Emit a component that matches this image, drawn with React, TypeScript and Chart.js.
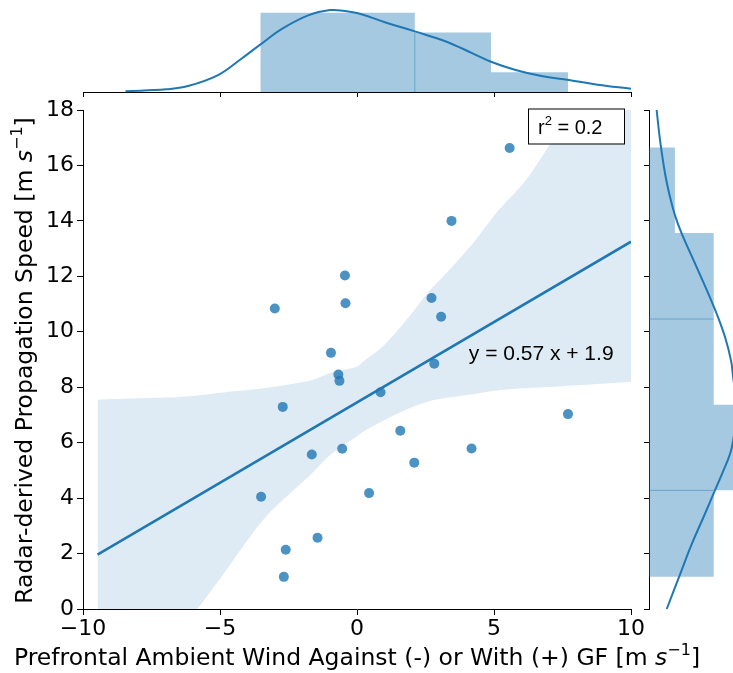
import React, { useEffect, useRef } from 'react';
import { Chart, registerables } from 'chart.js';

Chart.register(...registerables);

// ---------------- data ----------------
const obsX = [5.57, 3.45, -0.44, -0.42, -3.0, 2.72, 3.07, -0.95, 2.82, -0.68, -0.64, 0.86, -2.71, 7.7, 1.58, -0.54, 4.18, -1.65, 2.09, -3.5, 0.44, -1.44, -2.6, -2.67];
const obsY = [16.63, 14.0, 12.03, 11.03, 10.84, 11.22, 10.54, 9.24, 8.85, 8.46, 8.23, 7.82, 7.29, 7.03, 6.43, 5.78, 5.79, 5.57, 5.28, 4.05, 4.18, 2.57, 2.14, 1.16];

const fitX = [-9.47, 10];
const fitY = [1.96, 13.25];

const bandX = [-9.47, -8, -6.6, -5.83, -5, -3.35, -1.65, -0.99, 0, 0.23, 0.97, 1.81, 2.66, 3.27, 4.24, 5.1, 6.19, 7.37, 8.2, 10];
const bandUpper = [7.55, 7.6, 7.64, 7.7, 7.8, 7.97, 8.25, 8.51, 8.74, 8.93, 9.5, 10.43, 11.5, 12.12, 13.2, 14.3, 15.5, 17.25, 18.3, 20.5];
const bandLower = [-3.6, -2.2, -0.9, 0, 1.09, 3.3, 4.89, 5.55, 6.23, 6.4, 6.8, 7.2, 7.5, 7.62, 7.75, 7.88, 7.97, 8.03, 8.08, 8.2];

// top marginal histogram (x) and KDE
const topEdges = [-3.52, -0.72, 2.11, 4.89, 7.7];
const topCounts = [8, 8, 6, 2];
const topEdgeLineX = [2.11];
const topEdgeLineH = [6];
const topKdeX = [-8.45, -6.96, -6.17, -5.07, -4.28, -3.52, -2.71, -1.76, -0.98, -0.5, 0.13, 1.07, 2.11, 3.27, 4.22, 4.89, 5.79, 6.73, 7.73, 8.78, 10];
const topKdeY = [0.07, 0.27, 0.6, 1.71, 3.23, 4.81, 6.42, 7.76, 8.27, 8.2, 7.87, 6.99, 6.12, 5.08, 3.9, 3.06, 2.22, 1.61, 1.21, 0.74, 0.34];

// right marginal histogram (y) and KDE
const rightEdges = [1.16, 4.28, 7.37, 10.46, 13.56, 16.65];
const rightCounts = [5, 7, 5, 5, 2];
const rightEdgeLineY = [10.46, 4.28];
const rightEdgeLineW = [5, 5];
const rightKdeY = [18, 16.92, 15.71, 14.87, 14.2, 13.54, 12.46, 11.37, 10.65, 9.8, 8.96, 8.36, 7.2, 6.07, 5.59, 4.99, 4.14, 3.3, 2.34, 1.25, 0];
const rightKdeX = [0.59, 0.85, 1.24, 1.62, 2.01, 2.53, 3.56, 4.59, 5.23, 5.88, 6.34, 6.5, 6.8, 6.5, 6.26, 5.75, 4.97, 4.2, 3.3, 2.4, 1.37];

const xTicks = [-10, -5, 0, 5, 10];
const yTicks = [0, 2, 4, 6, 8, 10, 12, 14, 16, 18];

const xTitle = 'Prefrontal Ambient Wind Against (-) or With (+) GF [m ';
const yTitle = 'Radar-derived Propagation Speed [m ';
const unitS = 's';
const unitExp = '\u22121';
const eqText = 'y = 0.57 x + 1.9';
const eqAt = { x: 4.08, y: 9 };
const r2Label = 'r';
const r2Sup = '2';
const r2Value = ' = 0.2';

// ---------------- layout / style ----------------
const W = 733;
const H = 673;
const AREA_L = 83;
const AREA_R = 631;
const AREA_T = 110;
const AREA_B = 609;
const TOP_BASE = 92;
const RIGHT_L = 649;
const BLUE = '#1f77b4';
const DV = '"DejaVu Sans"';
const LS = '"Liberation Sans", Arial';
const TITLE_SIZE = 23.5;

type Part = { t: string; it?: boolean; sup?: boolean };

function drawRich(ctx: CanvasRenderingContext2D, parts: Part[], x: number, y: number, size: number, family: string, align: 'center' | 'left', rot = 0, supScale = 0.7) {
  ctx.save();
  ctx.translate(x, y);
  ctx.rotate(rot);
  const fontFor = (p: Part) => `${p.it ? 'italic ' : ''}${p.sup ? Math.round(size * supScale) : size}px ${family}`;
  let total = 0;
  const ws = parts.map((p) => {
    ctx.font = fontFor(p);
    const w = ctx.measureText(p.t).width;
    total += w;
    return w;
  });
  let cx = align === 'center' ? -total / 2 : 0;
  ctx.textBaseline = 'alphabetic';
  ctx.textAlign = 'left';
  ctx.fillStyle = '#000';
  parts.forEach((p, i) => {
    ctx.font = fontFor(p);
    ctx.fillText(p.t, cx, p.sup ? -size * 0.42 : 0);
    cx += ws[i];
  });
  ctx.restore();
}

const annotPlugin = {
  id: 'annot',
  afterDraw(chart: any) {
    const ctx: CanvasRenderingContext2D = chart.ctx;
    const a = chart.chartArea;
    const xs = chart.scales.x;
    const ys = chart.scales.y;
    ctx.save();
    // r^2 box (upper right)
    const bx = a.right - 103;
    const by = a.top - 1.5;
    ctx.fillStyle = '#fff';
    ctx.fillRect(bx, by, 96, 35);
    ctx.strokeStyle = '#000';
    ctx.lineWidth = 1;
    ctx.strokeRect(bx + 0.5, by + 0.5, 96, 35);
    drawRich(ctx, [{ t: r2Label }, { t: r2Sup, sup: true }, { t: r2Value }], bx + 10, by + 25, 20, LS, 'left', 0, 0.65);
    // equation
    ctx.fillStyle = '#000';
    ctx.font = `21px ${LS}`;
    ctx.textAlign = 'left';
    ctx.textBaseline = 'alphabetic';
    ctx.fillText(eqText, xs.getPixelForValue(eqAt.x), ys.getPixelForValue(eqAt.y));
    // axis titles
    const cxm = (a.left + a.right) / 2;
    const cym = (a.top + a.bottom) / 2;
    drawRich(ctx, [{ t: xTitle }, { t: unitS, it: true }, { t: unitExp, sup: true }, { t: ']' }], cxm, H - 8, TITLE_SIZE, DV, 'center');
    drawRich(ctx, [{ t: yTitle }, { t: unitS, it: true }, { t: unitExp, sup: true }, { t: ']' }], 32, cym + 1, TITLE_SIZE, DV, 'center', -Math.PI / 2);
    ctx.restore();
  },
};

function stepOutline(edges: number[], counts: number[], vertical: boolean) {
  const pts: { x: number; y: number }[] = [];
  const push = (pos: number, c: number) => pts.push(vertical ? { x: c, y: pos } : { x: pos, y: c });
  push(edges[0], 0);
  counts.forEach((c, i) => {
    push(edges[i], c);
    push(edges[i + 1], c);
  });
  push(edges[edges.length - 1], 0);
  return pts;
}

function mainConfig(): any {
  return {
    type: 'line',
    data: {
      datasets: [
        {
          data: bandX.map((x, i) => ({ x, y: bandLower[i] })),
          borderWidth: 0,
          borderColor: 'rgba(0,0,0,0)',
          pointRadius: 0,
          fill: false,
          tension: 0.3,
          order: 3,
        },
        {
          data: bandX.map((x, i) => ({ x, y: bandUpper[i] })),
          borderWidth: 0,
          borderColor: 'rgba(0,0,0,0)',
          pointRadius: 0,
          fill: '-1',
          backgroundColor: 'rgba(31,119,180,0.15)',
          tension: 0.3,
          order: 2,
        },
        {
          data: fitX.map((x, i) => ({ x, y: fitY[i] })),
          borderColor: BLUE,
          borderWidth: 2.5,
          pointRadius: 0,
          fill: false,
          order: 1,
        },
        {
          data: obsX.map((x, i) => ({ x, y: obsY[i] })),
          showLine: false,
          pointRadius: 5,
          pointBackgroundColor: 'rgba(31,119,180,0.8)',
          pointBorderWidth: 0,
          pointBorderColor: 'rgba(0,0,0,0)',
          order: 0,
        },
      ],
    },
    options: {
      responsive: false,
      animation: false,
      events: [],
      layout: { padding: { left: 0, top: AREA_T, right: W - AREA_R, bottom: 0 } },
      plugins: { legend: { display: false }, tooltip: { enabled: false } },
      scales: {
        x: {
          type: 'linear',
          min: xTicks[0],
          max: xTicks[xTicks.length - 1],
          afterBuildTicks: (s: any) => { s.ticks = xTicks.map((v) => ({ value: v })); },
          ticks: {
            color: '#000',
            font: { size: 22, family: 'DejaVu Sans' },
            padding: 1,
            maxRotation: 0,
            callback: (v: number) => String(v).replace('-', '\u2212'),
          },
          grid: { drawOnChartArea: false, tickLength: 6, tickColor: '#000', tickWidth: 1 },
          border: { color: '#000', width: 1 },
          afterFit: (s: any) => { s.height = H - AREA_B; },
        },
        y: {
          type: 'linear',
          min: yTicks[0],
          max: yTicks[yTicks.length - 1],
          afterBuildTicks: (s: any) => { s.ticks = yTicks.map((v) => ({ value: v })); },
          ticks: {
            color: '#000',
            font: { size: 22, family: 'DejaVu Sans' },
            padding: 3,
          },
          grid: { drawOnChartArea: false, tickLength: 6, tickColor: '#000', tickWidth: 1 },
          border: { color: '#000', width: 1 },
          afterFit: (s: any) => { s.width = AREA_L; },
        },
      },
    },
    plugins: [annotPlugin],
  };
}

function topConfig(): any {
  return {
    type: 'line',
    data: {
      datasets: [
        {
          data: stepOutline(topEdges, topCounts, false),
          borderWidth: 0,
          borderColor: 'rgba(0,0,0,0)',
          pointRadius: 0,
          fill: 'shape',
          backgroundColor: 'rgba(31,119,180,0.4)',
          order: 3,
        },
        ...topEdgeLineX.map((x, i) => ({
          data: [{ x, y: 0 }, { x, y: topEdgeLineH[i] }],
          borderWidth: 1,
          borderColor: 'rgba(31,119,180,0.45)',
          pointRadius: 0,
          fill: false,
          order: 2,
        })),
        {
          data: topKdeX.map((x, i) => ({ x, y: topKdeY[i] })),
          borderWidth: 2,
          borderColor: BLUE,
          pointRadius: 0,
          fill: false,
          tension: 0.4,
          clip: false,
          order: 0,
        },
      ],
    },
    options: {
      responsive: false,
      animation: false,
      events: [],
      elements: { line: { capBezierPoints: false } },
      layout: { padding: { left: AREA_L, top: 0, right: W - AREA_R, bottom: 0 } },
      plugins: { legend: { display: false }, tooltip: { enabled: false } },
      scales: {
        x: {
          type: 'linear',
          min: xTicks[0],
          max: xTicks[xTicks.length - 1],
          afterBuildTicks: (s: any) => { s.ticks = xTicks.map((v) => ({ value: v })); },
          ticks: { display: false },
          grid: { drawOnChartArea: false, tickLength: 5, tickColor: '#000', tickWidth: 1 },
          border: { color: '#000', width: 1 },
          afterFit: (s: any) => { s.height = H - TOP_BASE; },
        },
        y: { display: false, min: 0, max: 9.29 },
      },
    },
  };
}

function rightConfig(): any {
  return {
    type: 'line',
    data: {
      datasets: [
        {
          data: stepOutline(rightEdges, rightCounts, true),
          borderWidth: 0,
          borderColor: 'rgba(0,0,0,0)',
          pointRadius: 0,
          fill: 'shape',
          backgroundColor: 'rgba(31,119,180,0.4)',
          order: 3,
        },
        ...rightEdgeLineY.map((y, i) => ({
          data: [{ x: 0, y }, { x: rightEdgeLineW[i], y }],
          borderWidth: 1,
          borderColor: 'rgba(31,119,180,0.45)',
          pointRadius: 0,
          fill: false,
          order: 2,
        })),
        {
          data: rightKdeX.map((x, i) => ({ x, y: rightKdeY[i] })),
          borderWidth: 2,
          borderColor: BLUE,
          pointRadius: 0,
          fill: false,
          tension: 0.4,
          clip: false,
          order: 0,
        },
      ],
    },
    options: {
      responsive: false,
      animation: false,
      events: [],
      elements: { line: { capBezierPoints: false } },
      layout: { padding: { left: 0, top: AREA_T, right: 0, bottom: H - AREA_B } },
      plugins: { legend: { display: false }, tooltip: { enabled: false } },
      scales: {
        x: { type: 'linear', display: false, min: 0, max: (W - RIGHT_L) / 12.94 },
        y: {
          type: 'linear',
          min: yTicks[0],
          max: yTicks[yTicks.length - 1],
          afterBuildTicks: (s: any) => { s.ticks = yTicks.map((v) => ({ value: v })); },
          ticks: { display: false },
          grid: { drawOnChartArea: false, tickLength: 5, tickColor: '#000', tickWidth: 1 },
          border: { color: '#000', width: 1 },
          afterFit: (s: any) => { s.width = RIGHT_L; },
        },
      },
    },
  };
}

export default function App() {
  const mainRef = useRef<HTMLCanvasElement>(null);
  const topRef = useRef<HTMLCanvasElement>(null);
  const rightRef = useRef<HTMLCanvasElement>(null);

  useEffect(() => {
    const charts = [
      new Chart(rightRef.current as HTMLCanvasElement, rightConfig()),
      new Chart(topRef.current as HTMLCanvasElement, topConfig()),
      new Chart(mainRef.current as HTMLCanvasElement, mainConfig()),
    ];
    return () => charts.forEach((c) => c.destroy());
  }, []);

  const cs: React.CSSProperties = { position: 'absolute', left: 0, top: 0, width: W, height: H };
  return (
    <div style={{ position: 'absolute', left: 0, top: 0, width: W, height: H, background: '#fff', overflow: 'hidden' }}>
      <canvas ref={rightRef} width={W} height={H} style={cs} />
      <canvas ref={topRef} width={W} height={H} style={cs} />
      <canvas ref={mainRef} width={W} height={H} style={cs} />
    </div>
  );
}
